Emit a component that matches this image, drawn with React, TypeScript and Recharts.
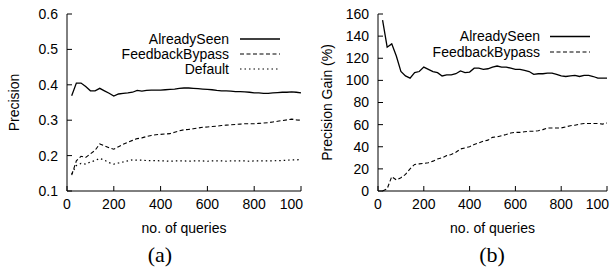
import React from "react";
import { LineChart, Line, XAxis, YAxis, Legend, Label } from "recharts";

const queries = [20, 40, 60, 80, 100, 120, 140, 160, 180, 200, 220, 240, 260, 280, 300, 320, 340, 360, 380, 400, 420, 440, 460, 480, 500, 520, 540, 560, 580, 600, 620, 640, 660, 680, 700, 720, 740, 760, 780, 800, 820, 840, 860, 880, 900, 920, 940, 960, 980, 1000];

// (a) precision
const precSeen = [0.369, 0.405, 0.405, 0.395, 0.383, 0.383, 0.39, 0.383, 0.376, 0.368, 0.374, 0.376, 0.377, 0.379, 0.384, 0.382, 0.384, 0.385, 0.385, 0.385, 0.386, 0.387, 0.388, 0.39, 0.391, 0.391, 0.39, 0.389, 0.388, 0.387, 0.386, 0.384, 0.383, 0.383, 0.382, 0.381, 0.381, 0.38, 0.379, 0.377, 0.377, 0.376, 0.376, 0.377, 0.378, 0.379, 0.379, 0.38, 0.379, 0.377];
const precBypass = [0.145, 0.185, 0.198, 0.195, 0.205, 0.215, 0.233, 0.228, 0.222, 0.218, 0.225, 0.232, 0.238, 0.243, 0.248, 0.25, 0.254, 0.257, 0.259, 0.26, 0.261, 0.262, 0.266, 0.27, 0.273, 0.274, 0.276, 0.278, 0.28, 0.281, 0.282, 0.283, 0.285, 0.286, 0.287, 0.288, 0.289, 0.29, 0.29, 0.29, 0.291, 0.292, 0.293, 0.295, 0.297, 0.299, 0.301, 0.303, 0.301, 0.3];
const precDefault = [0.148, 0.172, 0.178, 0.176, 0.182, 0.186, 0.192, 0.187, 0.18, 0.176, 0.179, 0.182, 0.185, 0.188, 0.187, 0.187, 0.186, 0.186, 0.186, 0.185, 0.185, 0.184, 0.185, 0.185, 0.185, 0.184, 0.185, 0.185, 0.185, 0.184, 0.185, 0.185, 0.185, 0.184, 0.185, 0.185, 0.185, 0.185, 0.184, 0.185, 0.185, 0.185, 0.185, 0.185, 0.186, 0.186, 0.187, 0.188, 0.188, 0.189];

// (b) precision gain %
const gainSeen = [154.5, 130, 133, 122, 108, 104, 102, 107, 108, 112, 110, 108, 107, 104, 105, 105, 106, 108.5, 107, 107.5, 111, 111, 110, 110.5, 112, 113, 112, 112, 111, 110, 110, 109, 108, 105.5, 106, 106, 106.5, 106.5, 105.5, 104, 103.5, 104, 104.5, 103.5, 104.5, 104.5, 103.5, 102, 102, 102];
const gainBypass = [0, 2, 13, 10, 12, 15, 20, 24, 24.5, 25, 25.5, 27, 29, 30, 32, 33, 35, 38, 39, 40, 42, 43.5, 45, 46, 48.5, 49, 50, 51, 52.5, 53, 53, 53.5, 54, 54, 54.5, 55.5, 57, 57, 57, 57, 58, 59, 59.5, 60.5, 61, 61, 61, 61, 60.5, 61.5];

const xTicks = [0, 200, 400, 600, 800, 1000];
const xTickLabels = ["0", "200", "400", "600", "800", "100"];
const precTicks = [0.1, 0.2, 0.3, 0.4, 0.5, 0.6];
const gainTicks = [0, 20, 40, 60, 80, 100, 120, 140, 160];

const dataA = queries.map((q, i) => ({ q, seen: precSeen[i], bypass: precBypass[i], def: precDefault[i] }));
const dataB = queries.map((q, i) => ({ q, seen: gainSeen[i], bypass: gainBypass[i] }));

const FONT = "'Liberation Sans', Arial, Helvetica, sans-serif";
const tickStyle = { fontSize: 14, fill: "#000", fontFamily: FONT };
const styles = {
  seen: { dash: undefined as string | undefined, width: 1.3 },
  bypass: { dash: "4 2.5", width: 1.1 },
  def: { dash: "1.5 3", width: 1.2 },
};

// last label is cut short in the original ("100" under 1000), and sits flush right
function XTick(props: any) {
  const { x, y, payload } = props;
  const idx = xTicks.indexOf(payload.value);
  const last = idx === xTicks.length - 1;
  return (
    <text x={last ? x + 2 : x} y={y} dy="0.71em" textAnchor={last ? "end" : "middle"} fontSize={14} fontFamily={FONT} fill="#000">
      {xTickLabels[idx]}
    </text>
  );
}

function LegendBox({ items, textRight, lineX, rows }: { items: { name: string; key: keyof typeof styles }[]; textRight: number; lineX: number; rows: number[] }) {
  return (
    <svg width={308} height={90} style={{ overflow: "visible" }}>
      {items.map((it, i) => (
        <g key={it.name}>
          <text x={textRight} y={rows[i]} textAnchor="end" dominantBaseline="central" fontSize={14} fontFamily={FONT} fill="#000">{it.name}</text>
          <line x1={lineX} x2={lineX + 40} y1={rows[i] + 0.5} y2={rows[i] + 0.5} stroke="#000" strokeWidth={styles[it.key].width} strokeDasharray={styles[it.key].dash} />
        </g>
      ))}
    </svg>
  );
}

function Panel({ data, yDomain, yTicks, yFmt, yLabel, yLabelX, sub, subX, series, legend, plotLeft, plotRight }: any) {
  const W = 308, H = 269;
  return (
    <LineChart width={W} height={H} data={data} margin={{ top: 14, right: W - plotRight, left: 0, bottom: 0 }} style={{ fontFamily: FONT }}>
      <XAxis dataKey="q" type="number" domain={[0, 1000]} ticks={xTicks} height={H - 191} tickSize={-5} tickMargin={13}
        tick={<XTick />} axisLine={{ stroke: "#000" }} tickLine={{ stroke: "#000" }} interval={0}>
        <Label content={(p: any) => {
          const vb = p.viewBox;
          const cx = vb.x + vb.width / 2;
          return (
            <g>
              <text x={cx} y={233} textAnchor="middle" fontSize={14} fontFamily={FONT} fill="#000">no. of queries</text>
              <text x={subX} y={262} textAnchor="middle" fontSize={22} fontFamily="'Liberation Serif', 'Times New Roman', serif" fill="#000">{sub}</text>
            </g>
          );
        }} />
      </XAxis>
      <XAxis xAxisId="top" orientation="top" dataKey="q" type="number" domain={[0, 1000]} ticks={xTicks} height={0} tickSize={-5}
        tick={() => <g />} axisLine={{ stroke: "#000" }} tickLine={{ stroke: "#000" }} interval={0} />
      <YAxis type="number" domain={yDomain} ticks={yTicks} tickFormatter={yFmt} width={plotLeft} tickSize={-5} tickMargin={14}
        tick={tickStyle} axisLine={{ stroke: "#000" }} tickLine={{ stroke: "#000" }} interval={0}>
        <Label content={() => (
          <text x={yLabelX} y={102.5} transform={`rotate(-90 ${yLabelX} 102.5)`} textAnchor="middle" fontSize={14} fontFamily={FONT} fill="#000">{yLabel}</text>
        )} />
      </YAxis>
      <YAxis yAxisId="right" orientation="right" type="number" domain={yDomain} ticks={yTicks} width={0} tickSize={-5}
        tick={() => <g />} axisLine={{ stroke: "#000" }} tickLine={{ stroke: "#000" }} interval={0} />
      <Legend verticalAlign="middle" align="center" layout="horizontal"
        wrapperStyle={{ position: "absolute", left: 0, top: 0, width: 308, height: 90 }}
        content={() => <LegendBox {...legend} />} />
      {series.map((s: any) => (
        <Line key={s.key} dataKey={s.key} name={s.name} type="linear" stroke="#000" strokeWidth={styles[s.key as keyof typeof styles].width}
          strokeDasharray={styles[s.key as keyof typeof styles].dash} dot={false} isAnimationActive={false} />
      ))}
    </LineChart>
  );
}

export default function App() {
  const seriesA = [
    { key: "seen", name: "AlreadySeen" },
    { key: "bypass", name: "FeedbackBypass" },
    { key: "def", name: "Default" },
  ];
  const seriesB = seriesA.slice(0, 2);
  return (
    <div style={{ position: "absolute", left: 0, top: 0, width: 616, height: 269, background: "#fff" }}>
      <div style={{ position: "absolute", left: 0, top: 0 }}>
        <Panel data={dataA} yDomain={[0.1, 0.6]} yTicks={precTicks} yFmt={(v: number) => v.toFixed(1)} yLabel="Precision" yLabelX={19}
          sub="(a)" subX={160} series={seriesA} plotLeft={67} plotRight={301}
          legend={{ items: seriesA, textRight: 229, lineX: 240, rows: [38.5, 53.5, 68.5] }} />
      </div>
      <div style={{ position: "absolute", left: 308, top: 0 }}>
        <Panel data={dataB} yDomain={[0, 160]} yTicks={gainTicks} yFmt={(v: number) => String(v)} yLabel="Precision Gain (%)" yLabelX={24}
          sub="(b)" subX={184} series={seriesB} plotLeft={70} plotRight={299}
          legend={{ items: seriesB, textRight: 232, lineX: 242, rows: [36, 51.5] }} />
      </div>
    </div>
  );
}
